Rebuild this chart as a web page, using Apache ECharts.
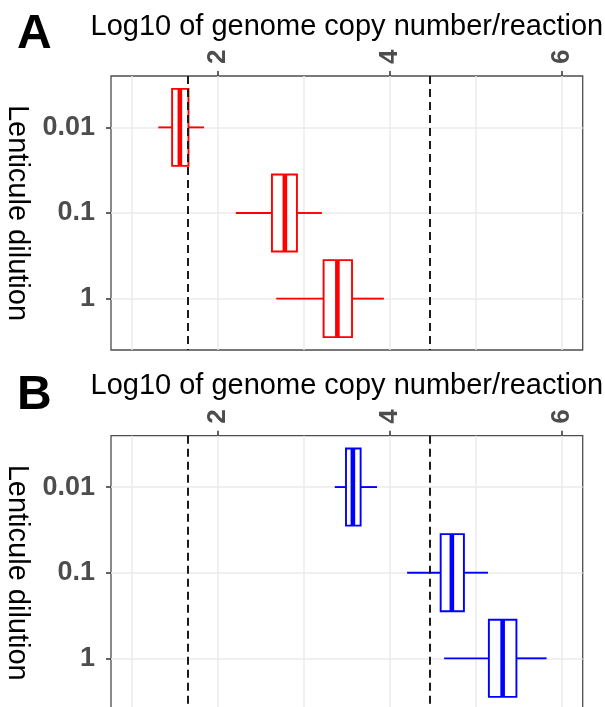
<!DOCTYPE html>
<html><head><meta charset="utf-8">
<script src="https://cdn.jsdelivr.net/npm/echarts@6/dist/echarts.min.js"></script>
<style>html,body{margin:0;padding:0;background:#fff}#c{width:605px;height:707px}</style>
</head><body><div id="c"></div>
<script>
// ---- data ----
const dilutions = ['0.01', '0.1', '1'];
// [min, Q1, median, Q3, max] per dilution, log10 copies/reaction
const panelA = [
  [1.31, 1.47, 1.56, 1.66, 1.84],
  [2.21, 2.63, 2.78, 2.92, 3.21],
  [2.68, 3.23, 3.39, 3.56, 3.93]
];
const panelB = [
  [3.36, 3.49, 3.57, 3.66, 3.85],
  [4.20, 4.59, 4.72, 4.86, 5.14],
  [4.63, 5.15, 5.31, 5.47, 5.82]
];
const xTicks = [2, 4, 6];
const xGridLines = [1, 2, 3, 4, 5, 6];
const cutoffs = [1.65, 4.46];
const panelLabels = ['A', 'B'];
const xTitle = 'Log10 of genome copy number/reaction';
const yTitle = 'Lenticule dilution';
const colors = ['#ff0000', '#0000ff'];
const xRange = [0.76, 6.24];
const yRange = [0.4, 3.6];

// ---- chart ----
const FONT = 'Liberation Sans, Arial, Helvetica, sans-serif';
const chart = echarts.init(document.getElementById('c'), null, {renderer: 'canvas'});

function renderBox(color) {
  return function (params, api) {
    const y = api.value(0);
    const pLo = api.coord([api.value(1), y]);
    const pQ1 = api.coord([api.value(2), y]);
    const pMd = api.coord([api.value(3), y]);
    const pQ3 = api.coord([api.value(4), y]);
    const pHi = api.coord([api.value(5), y]);
    const h = api.size([0, 0.9])[1];
    const cy = pLo[1];
    const lw = 1.9;
    return {
      type: 'group',
      children: [
        {type: 'line', shape: {x1: pLo[0], y1: cy, x2: pQ1[0], y2: cy}, style: {stroke: color, lineWidth: lw}},
        {type: 'line', shape: {x1: pQ3[0], y1: cy, x2: pHi[0], y2: cy}, style: {stroke: color, lineWidth: lw}},
        {type: 'rect', shape: {x: pQ1[0], y: cy - h / 2, width: pQ3[0] - pQ1[0], height: h},
          style: {fill: '#ffffff', stroke: color, lineWidth: lw}},
        {type: 'line', shape: {x1: pMd[0], y1: cy - h / 2, x2: pMd[0], y2: cy + h / 2},
          style: {stroke: color, lineWidth: 4.6}}
      ]
    };
  };
}

const grids = [
  {left: 111, right: 22.3, top: 76, height: 274},
  {left: 111, right: 22.3, top: 435.7, height: 274}
];
const panels = [panelA, panelB];

const option = {
  backgroundColor: '#ffffff',
  animation: false,
  title: panelLabels.map((t, i) => ({
    text: t, left: 12, top: i === 0 ? 6 : 367,
    textStyle: {fontFamily: FONT, fontSize: 48, fontWeight: 'bold', color: '#000'}
  })),
  grid: grids.map(g => Object.assign({
    show: true, borderColor: '#4d4d4d', borderWidth: 1.3, backgroundColor: 'transparent',
    containLabel: false, outerBoundsMode: 'none'
  }, g)),
  xAxis: [],
  yAxis: [],
  series: []
};

panels.forEach((pd, i) => {
  // main (top) axis with labels and ticks
  option.xAxis.push({
    type: 'value', gridIndex: i, position: 'top', min: xRange[0], max: xRange[1],
    name: xTitle, nameLocation: 'middle', nameGap: 35,
    nameTextStyle: {fontFamily: FONT, fontSize: 29, color: '#000'},
    axisLine: {show: false},
    axisTick: {show: true, length: 5, customValues: xTicks, lineStyle: {color: '#333', width: 1.5}},
    axisLabel: {show: true, customValues: xTicks, rotate: -90, margin: 12,
      fontFamily: FONT, fontSize: 26, fontWeight: 'bold', color: '#4d4d4d'},
    splitLine: {show: false}
  });
  // hidden axis carrying the vertical grid lines
  option.xAxis.push({
    type: 'value', gridIndex: i, position: 'bottom', min: xRange[0], max: xRange[1],
    axisLine: {show: false}, axisLabel: {show: false},
    axisTick: {show: false, customValues: xGridLines},
    splitLine: {show: true, lineStyle: {color: '#ebebeb', width: 1.5}}
  });
  option.yAxis.push({
    type: 'value', gridIndex: i, inverse: true, min: yRange[0], max: yRange[1],
    name: yTitle, nameLocation: 'middle', nameGap: 71, nameRotate: -90,
    nameTextStyle: {fontFamily: FONT, fontSize: 29, color: '#000'},
    axisLine: {show: false},
    axisTick: {show: true, length: 5, customValues: [1, 2, 3], lineStyle: {color: '#333', width: 1.5}},
    axisLabel: {show: true, customValues: [1, 2, 3], margin: 16,
      formatter: v => dilutions[Math.round(v) - 1],
      fontFamily: FONT, fontSize: 27, fontWeight: 'bold', color: '#4d4d4d'},
    splitLine: {show: true, lineStyle: {color: '#ebebeb', width: 1.5}}
  });
  option.series.push({
    type: 'custom', xAxisIndex: i * 2, yAxisIndex: i,
    renderItem: renderBox(colors[i]),
    encode: {x: [1, 2, 3, 4, 5], y: 0},
    data: pd.map((d, k) => [k + 1].concat(d)),
    markLine: {
      silent: true, symbol: 'none', label: {show: false}, z: 10,
      lineStyle: {color: '#1a1a1a', type: [8, 5], width: 2},
      data: cutoffs.map(v => ({xAxis: v}))
    }
  });
});

chart.setOption(option);
</script>
</body></html>
